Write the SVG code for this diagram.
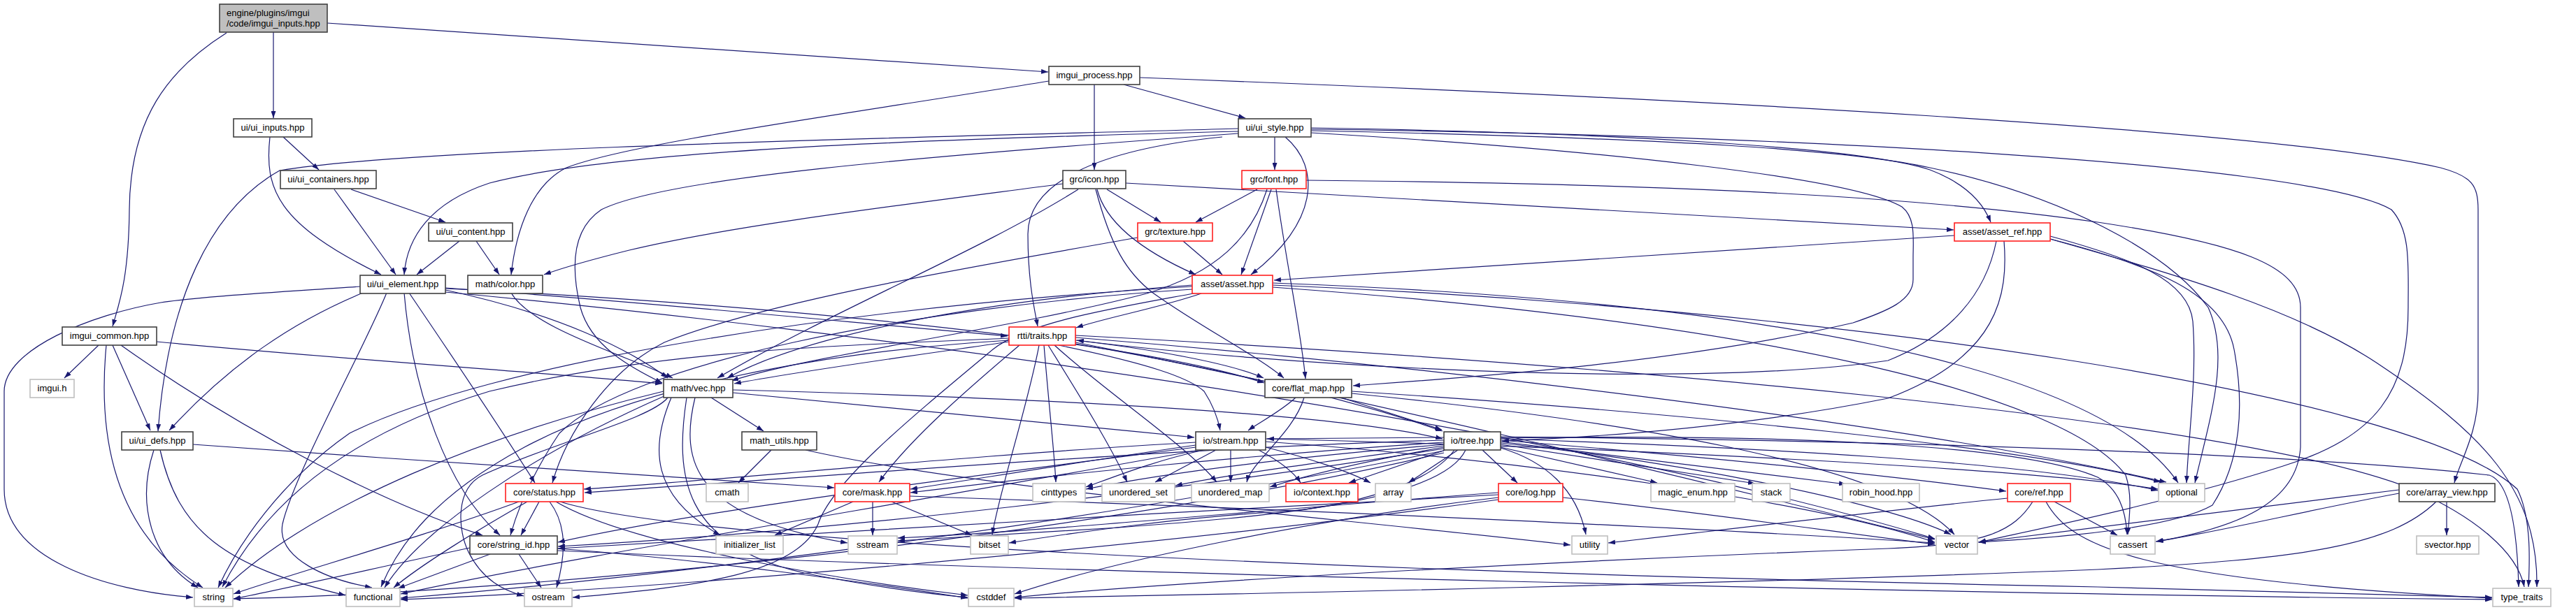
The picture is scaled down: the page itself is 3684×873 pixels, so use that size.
<svg xmlns="http://www.w3.org/2000/svg" width="3684" height="873" viewBox="0 0 3684 873">
<style>
.e{fill:none;stroke:#191970;stroke-width:1.2;marker-end:url(#ah)}
.n rect{fill:#fff;stroke:#404040;stroke-width:1.6}
.r rect{fill:#fff;stroke:#ff2020;stroke-width:1.6}
.g rect{fill:#fff;stroke:#bfbfbf;stroke-width:1.6}
.root rect{fill:#bfbfbf;stroke:#404040;stroke-width:1.6}
text{font-family:"Liberation Sans",Arial,sans-serif;font-size:13px;fill:#000}
.c{text-anchor:middle}
</style>
<defs>
<marker id="ah" viewBox="0 0 10 7" refX="10" refY="3.5" markerWidth="10" markerHeight="7" markerUnits="userSpaceOnUse" orient="auto"><path d="M0,0 L10,3.5 L0,7 z" fill="#191970"/></marker>
</defs>
<rect width="3684" height="873" fill="#fff"/>
<g id="edges">
<path class="e" d="M391,46 L391,169"/>
<path class="e" d="M468,33 L1499,103"/>
<path class="e" d="M324,47 C240,100 186,170 185,300 C184,400 170,435 161,467"/>
<path class="e" d="M405,196 L456,243"/>
<path class="e" d="M386,196 C378,270 395,320 545,393"/>
<path class="e" d="M478,271 L566,393"/>
<path class="e" d="M502,271 L637,318"/>
<path class="e" d="M657,345 L596,393"/>
<path class="e" d="M681,345 L714,393"/>
<path class="e" d="M1607,121 L1781,169"/>
<path class="e" d="M1565,121 L1565,243"/>
<path class="e" d="M1500,116 C1200,165 900,205 810,240 C760,265 738,330 731,393"/>
<path class="e" d="M1630,111 C2400,140 3250,185 3490,240 C3535,252 3544,265 3544,300 L3544,560 C3544,620 3518,660 3510,691"/>
<path class="e" d="M1823,196 L1823,243"/>
<path class="e" d="M1771,188 C1300,200 880,215 700,262 C615,290 582,340 578,393"/>
<path class="e" d="M1771,184 C1400,195 600,210 400,244 C300,300 240,430 226,617"/>
<path class="e" d="M1771,191 C1300,225 950,255 860,300 C815,330 818,390 830,440 C845,495 900,525 947,548"/>
<path class="e" d="M1748,196 C1560,215 1470,265 1470,335 C1470,405 1480,445 1484,467"/>
<path class="e" d="M1838,196 C1890,240 1885,320 1789,393"/>
<path class="e" d="M1875,183 C2300,190 2660,210 2760,243 C2810,262 2836,290 2847,318"/>
<path class="e" d="M1875,187 C2400,198 2650,215 2760,240 C2950,280 3100,360 3158,440 C3190,510 3160,600 3139,691"/>
<path class="e" d="M1875,185 C2500,192 3300,230 3420,300 C3448,330 3444,380 3444,440 C3444,560 3400,625 3265,667 C3100,720 2900,760 2830,776"/>
<path class="e" d="M1875,190 C2300,215 2650,255 2720,296 C2740,312 2736,340 2736,370 L2736,400 C2736,430 2700,445 2650,462 C2400,520 2100,540 1935,552"/>
<path class="e" d="M1583,271 L1660,318"/>
<path class="e" d="M1569,271 C1582,322 1640,362 1710,393"/>
<path class="e" d="M1567,271 C1588,350 1610,390 1650,420 C1720,470 1800,510 1836,541"/>
<path class="e" d="M1610,262 L2794,329"/>
<path class="e" d="M1520,263 C1300,292 1050,322 900,358 C840,373 800,385 778,393"/>
<path class="e" d="M1542,271 C1400,360 1200,440 1026,541"/>
<path class="e" d="M1798,271 L1710,318"/>
<path class="e" d="M1818,271 L1775,393"/>
<path class="e" d="M1812,271 C1790,340 1740,390 1640,420 C1450,470 1150,510 1046,545"/>
<path class="e" d="M1825,271 C1840,380 1860,470 1867,542"/>
<path class="e" d="M1868,258 C2300,262 2700,275 3000,318 C3200,348 3290,380 3290,440 L3290,640 C3285,720 3200,755 3084,775"/>
<path class="e" d="M1692,345 L1748,393"/>
<path class="e" d="M1627,340 C1400,380 1100,430 950,490 C870,530 810,620 790,691"/>
<path class="e" d="M1718,420 C1660,440 1580,455 1539,469"/>
<path class="e" d="M2795,337 L1822,401"/>
<path class="e" d="M2866,345 C2872,420 2860,510 2700,570 C2500,610 2300,625 2148,631"/>
<path class="e" d="M2855,345 C2840,420 2790,480 2700,516 C2400,560 1800,520 1540,487"/>
<path class="e" d="M2932,338 C3050,370 3130,400 3136,460 C3142,540 3130,620 3127,691"/>
<path class="e" d="M2932,342 C3080,380 3180,420 3195,500 C3210,580 3205,660 3164,723 C3100,760 2900,772 2830,776"/>
<path class="e" d="M2932,342 C3100,390 3280,440 3400,520 C3550,620 3630,700 3628,840"/>
<path class="e" d="M141,494 L92,541"/>
<path class="e" d="M161,494 L215,616"/>
<path class="e" d="M152,494 C140,620 160,760 290,841"/>
<path class="e" d="M173,494 C350,620 550,720 690,766"/>
<path class="e" d="M224,489 C500,515 800,535 947,549"/>
<path class="e" d="M220,644 C195,720 215,800 283,841"/>
<path class="e" d="M229,644 C255,760 320,810 494,852"/>
<path class="e" d="M276,636 C600,660 1000,685 1193,698"/>
<path class="e" d="M519,419 C420,460 330,520 242,616"/>
<path class="e" d="M515,410 C400,418 280,425 230,433 C130,450 6,500 6,560 L6,700 C6,800 150,845 276,855"/>
<path class="e" d="M553,419 C520,500 420,680 404,750 C395,800 470,830 532,841"/>
<path class="e" d="M585,419 C640,500 720,620 765,691"/>
<path class="e" d="M578,419 C590,560 640,700 715,766"/>
<path class="e" d="M637,412 C900,430 1200,460 1441,481"/>
<path class="e" d="M637,415 C800,450 900,500 955,541"/>
<path class="e" d="M637,413 C1000,430 1600,480 1808,548"/>
<path class="e" d="M637,418 C1200,470 2200,600 2767,771"/>
<path class="e" d="M731,419 C760,470 900,510 962,541"/>
<path class="e" d="M1443,489 C1300,510 1150,530 1050,549"/>
<path class="e" d="M1458,494 C1380,560 1300,630 1257,690"/>
<path class="e" d="M1486,494 C1470,580 1430,700 1419,765"/>
<path class="e" d="M1493,494 C1500,580 1508,650 1510,690"/>
<path class="e" d="M1499,494 C1540,560 1590,640 1612,690"/>
<path class="e" d="M1508,494 C1580,560 1700,640 1740,690"/>
<path class="e" d="M1514,494 C1640,520 1700,540 1722,560 C1735,580 1742,600 1745,616"/>
<path class="e" d="M1538,487 C1650,500 1760,520 1807,541"/>
<path class="e" d="M1538,492 C1700,520 1900,560 2063,617"/>
<path class="e" d="M1443,484 C1200,495 950,500 700,560 C500,620 380,720 318,840"/>
<path class="e" d="M1443,487 C1150,505 900,560 750,640 C620,710 570,780 545,840"/>
<path class="e" d="M1538,480 C2300,520 3200,600 3450,700 C3540,740 3600,790 3610,840"/>
<path class="e" d="M1538,483 C2000,520 2700,600 3098,690"/>
<path class="e" d="M1538,490 C1900,560 2400,680 2767,772"/>
<path class="e" d="M1017,569 L1092,617"/>
<path class="e" d="M1048,562 C1300,585 1500,605 1708,626"/>
<path class="e" d="M960,569 C930,640 930,710 1030,766"/>
<path class="e" d="M994,569 C972,660 990,740 1212,777"/>
<path class="e" d="M982,569 C965,680 975,780 1150,820 C1250,840 1330,850 1384,855"/>
<path class="e" d="M955,569 C930,600 800,630 690,680 C650,700 655,760 670,790 C690,830 720,845 749,853"/>
<path class="e" d="M949,560 C700,620 450,720 322,841"/>
<path class="e" d="M952,566 C760,650 600,760 550,841"/>
<path class="e" d="M1048,558 C1500,570 1900,590 2063,628"/>
<path class="e" d="M1103,644 L1056,691"/>
<path class="e" d="M1152,644 C1400,700 1900,740 2246,780"/>
<path class="e" d="M1721,644 C1650,660 1600,680 1553,697"/>
<path class="e" d="M1739,644 L1652,690"/>
<path class="e" d="M1760,644 L1760,690"/>
<path class="e" d="M1710,637 C1550,660 1400,685 1302,700"/>
<path class="e" d="M1710,633 C1400,650 1000,690 835,700"/>
<path class="e" d="M1710,640 C1400,680 1000,730 798,776"/>
<path class="e" d="M1800,644 C1830,660 1850,675 1860,691"/>
<path class="e" d="M1810,640 C1870,655 1930,675 1960,691"/>
<path class="e" d="M1710,645 C1300,720 800,800 573,850"/>
<path class="e" d="M1810,632 C2200,660 2600,720 2767,776"/>
<path class="e" d="M1810,628 C2300,640 2900,670 3086,700"/>
<path class="e" d="M1918,569 L2062,615"/>
<path class="e" d="M1853,569 C1830,590 1800,605 1785,616"/>
<path class="e" d="M1865,569 C1850,620 1790,660 1783,690"/>
<path class="e" d="M1933,563 C2300,600 2700,660 2795,765"/>
<path class="e" d="M1933,560 C2400,590 2900,640 3090,690"/>
<path class="e" d="M2065,626 L1812,628"/>
<path class="e" d="M2067,644 L1929,691"/>
<path class="e" d="M2085,644 L2014,691"/>
<path class="e" d="M2120,644 L2170,691"/>
<path class="e" d="M2146,640 L2370,691"/>
<path class="e" d="M2146,636 L2510,692"/>
<path class="e" d="M2146,632 L2640,693"/>
<path class="e" d="M2146,641 C2210,660 2255,700 2268,765"/>
<path class="e" d="M2146,630 C2400,650 2700,680 2869,703"/>
<path class="e" d="M2146,628 C2500,640 2900,660 3086,702"/>
<path class="e" d="M2146,634 C2400,660 2700,720 2790,765"/>
<path class="e" d="M2146,627 C2600,620 2900,640 3000,683 C3030,700 3040,730 3042,765"/>
<path class="e" d="M2146,625 C2700,630 3300,650 3560,680 C3590,690 3600,760 3602,840"/>
<path class="e" d="M2065,630 C1700,640 1200,680 836,705"/>
<path class="e" d="M2065,633 C1800,650 1500,680 1302,705"/>
<path class="e" d="M2065,636 C1900,650 1700,670 1553,700"/>
<path class="e" d="M2065,638 C1900,660 1750,680 1681,695"/>
<path class="e" d="M2065,640 C1950,660 1870,680 1816,697"/>
<path class="e" d="M2065,642 C1700,700 1200,760 798,782"/>
<path class="e" d="M2080,644 C2040,700 1900,730 1820,733 C1700,740 1550,760 1443,777"/>
<path class="e" d="M2096,644 C2060,720 1800,740 1600,755 C1450,765 1350,770 1284,774"/>
<path class="e" d="M2065,645 C1500,760 900,830 573,856"/>
<path class="e" d="M2065,648 C1500,780 700,850 334,857"/>
<path class="e" d="M2143,708 C1700,730 1100,770 798,785"/>
<path class="e" d="M2143,712 C1900,740 1600,800 1451,850"/>
<path class="e" d="M2143,705 C1800,730 1500,760 1284,770"/>
<path class="e" d="M2235,712 C2450,735 2650,765 2767,779"/>
<path class="e" d="M2143,715 C1600,790 900,845 573,858"/>
<path class="e" d="M771,718 L745,766"/>
<path class="e" d="M742,718 C600,770 420,820 334,850"/>
<path class="e" d="M754,718 C680,760 600,810 563,841"/>
<path class="e" d="M786,718 C810,750 810,790 796,841"/>
<path class="e" d="M795,718 C900,780 1200,830 1384,852"/>
<path class="e" d="M801,718 C1000,780 2000,820 3000,840 C3300,848 3500,853 3564,855"/>
<path class="e" d="M672,784 C550,810 420,840 334,857"/>
<path class="e" d="M701,793 L569,842"/>
<path class="e" d="M742,793 L774,841"/>
<path class="e" d="M797,785 C1000,800 1250,835 1384,856"/>
<path class="e" d="M797,788 C1500,820 2800,850 3564,858"/>
<path class="e" d="M1220,718 L1108,766"/>
<path class="e" d="M1248,718 L1248,766"/>
<path class="e" d="M1275,718 L1390,766"/>
<path class="e" d="M1301,710 C1900,730 2500,760 2767,777"/>
<path class="e" d="M2871,713 C2700,730 2450,760 2300,777"/>
<path class="e" d="M2938,718 L3028,766"/>
<path class="e" d="M2907,718 C2880,760 2840,780 2700,785 C2300,800 1700,830 1451,855"/>
<path class="e" d="M2926,718 C2960,780 3050,830 3564,856"/>
<path class="e" d="M3431,701 C3200,730 2950,760 2829,776"/>
<path class="e" d="M3431,706 C3300,730 3180,760 3083,775"/>
<path class="e" d="M3499,718 L3499,766"/>
<path class="e" d="M3484,718 C3420,780 3300,800 3000,815 C2500,835 1800,850 1451,856"/>
<path class="e" d="M1705,414 C1300,440 900,520 800,620 C760,680 740,730 730,766"/>
<path class="e" d="M1705,410 C1200,440 700,520 500,620 C400,690 340,780 312,841"/>
<path class="e" d="M1712,419 C1600,440 1470,460 1420,500 C1300,600 1190,690 1170,750 C1140,820 1000,840 819,855"/>
<path class="e" d="M1705,408 C1400,430 1150,480 1040,541"/>
<path class="e" d="M1820,405 C2500,430 3000,520 3115,691"/>
<path class="e" d="M1820,408 C2600,440 3450,560 3600,700 C3620,740 3618,800 3616,840"/>
<path class="e" d="M1820,411 C2500,460 2950,560 3040,680 C3050,710 3045,740 3043,765"/>
</g>
<g id="node-root" class="root"><rect x="314" y="6" width="154" height="40"/><text x="324" y="23">engine/plugins/imgui</text><text x="324" y="38">/code/imgui_inputs.hpp</text></g>
<g id="node-ui_inputs" class="n"><rect x="334" y="170" width="112" height="26"/><text class="c" x="390" y="187">ui/ui_inputs.hpp</text></g>
<g id="node-imgui_process" class="n"><rect x="1500" y="95" width="130" height="26"/><text class="c" x="1565" y="112">imgui_process.hpp</text></g>
<g id="node-ui_style" class="n"><rect x="1771" y="170" width="104" height="26"/><text class="c" x="1823" y="187">ui/ui_style.hpp</text></g>
<g id="node-ui_containers" class="n"><rect x="401" y="244" width="137" height="26"/><text class="c" x="469.5" y="261">ui/ui_containers.hpp</text></g>
<g id="node-grc_icon" class="n"><rect x="1520" y="244" width="90" height="26"/><text class="c" x="1565" y="261">grc/icon.hpp</text></g>
<g id="node-grc_font" class="r"><rect x="1776" y="244" width="92" height="26"/><text class="c" x="1822" y="261">grc/font.hpp</text></g>
<g id="node-ui_content" class="n"><rect x="613" y="319" width="120" height="26"/><text class="c" x="673" y="336">ui/ui_content.hpp</text></g>
<g id="node-grc_texture" class="r"><rect x="1627" y="319" width="107" height="26"/><text class="c" x="1680.5" y="336">grc/texture.hpp</text></g>
<g id="node-asset_ref" class="r"><rect x="2795" y="319" width="137" height="26"/><text class="c" x="2863.5" y="336">asset/asset_ref.hpp</text></g>
<g id="node-ui_element" class="n"><rect x="515" y="394" width="122" height="26"/><text class="c" x="576" y="411">ui/ui_element.hpp</text></g>
<g id="node-math_color" class="n"><rect x="669" y="394" width="107" height="26"/><text class="c" x="722.5" y="411">math/color.hpp</text></g>
<g id="node-asset" class="r"><rect x="1705" y="394" width="115" height="26"/><text class="c" x="1762.5" y="411">asset/asset.hpp</text></g>
<g id="node-imgui_common" class="n"><rect x="89" y="468" width="135" height="26"/><text class="c" x="156.5" y="485">imgui_common.hpp</text></g>
<g id="node-rtti_traits" class="r"><rect x="1443" y="468" width="95" height="26"/><text class="c" x="1490.5" y="485">rtti/traits.hpp</text></g>
<g id="node-imgui_h" class="g"><rect x="43" y="543" width="63" height="26"/><text class="c" x="74.5" y="560">imgui.h</text></g>
<g id="node-math_vec" class="n"><rect x="949" y="543" width="99" height="26"/><text class="c" x="998.5" y="560">math/vec.hpp</text></g>
<g id="node-flat_map" class="n"><rect x="1809" y="543" width="124" height="26"/><text class="c" x="1871" y="560">core/flat_map.hpp</text></g>
<g id="node-ui_defs" class="n"><rect x="174" y="618" width="102" height="26"/><text class="c" x="225" y="635">ui/ui_defs.hpp</text></g>
<g id="node-math_utils" class="n"><rect x="1061" y="618" width="107" height="26"/><text class="c" x="1114.5" y="635">math_utils.hpp</text></g>
<g id="node-io_stream" class="n"><rect x="1710" y="618" width="100" height="26"/><text class="c" x="1760" y="635">io/stream.hpp</text></g>
<g id="node-io_tree" class="n"><rect x="2065" y="618" width="81" height="26"/><text class="c" x="2105.5" y="635">io/tree.hpp</text></g>
<g id="node-core_status" class="r"><rect x="723" y="692" width="111" height="26"/><text class="c" x="778.5" y="709">core/status.hpp</text></g>
<g id="node-cmath" class="g"><rect x="1010" y="692" width="60" height="26"/><text class="c" x="1040" y="709">cmath</text></g>
<g id="node-core_mask" class="r"><rect x="1194" y="692" width="107" height="26"/><text class="c" x="1247.5" y="709">core/mask.hpp</text></g>
<g id="node-cinttypes" class="g"><rect x="1477" y="692" width="75" height="26"/><text class="c" x="1514.5" y="709">cinttypes</text></g>
<g id="node-unordered_set" class="g"><rect x="1576" y="692" width="104" height="26"/><text class="c" x="1628" y="709">unordered_set</text></g>
<g id="node-unordered_map" class="g"><rect x="1704" y="692" width="111" height="26"/><text class="c" x="1759.5" y="709">unordered_map</text></g>
<g id="node-io_context" class="r"><rect x="1839" y="692" width="103" height="26"/><text class="c" x="1890.5" y="709">io/context.hpp</text></g>
<g id="node-array" class="g"><rect x="1967" y="692" width="51" height="26"/><text class="c" x="1992.5" y="709">array</text></g>
<g id="node-core_log" class="r"><rect x="2143" y="692" width="92" height="26"/><text class="c" x="2189" y="709">core/log.hpp</text></g>
<g id="node-magic_enum" class="g"><rect x="2361" y="692" width="120" height="26"/><text class="c" x="2421" y="709">magic_enum.hpp</text></g>
<g id="node-stack" class="g"><rect x="2506" y="692" width="54" height="26"/><text class="c" x="2533" y="709">stack</text></g>
<g id="node-robin_hood" class="g"><rect x="2635" y="692" width="110" height="26"/><text class="c" x="2690" y="709">robin_hood.hpp</text></g>
<g id="node-core_ref" class="r"><rect x="2871" y="692" width="90" height="26"/><text class="c" x="2916" y="709">core/ref.hpp</text></g>
<g id="node-optional" class="g"><rect x="3087" y="692" width="66" height="26"/><text class="c" x="3120" y="709">optional</text></g>
<g id="node-array_view" class="n"><rect x="3431" y="692" width="137" height="26"/><text class="c" x="3499.5" y="709">core/array_view.hpp</text></g>
<g id="node-string_id" class="n"><rect x="672" y="767" width="125" height="26"/><text class="c" x="734.5" y="784">core/string_id.hpp</text></g>
<g id="node-initializer_list" class="g"><rect x="1024" y="767" width="96" height="26"/><text class="c" x="1072" y="784">initializer_list</text></g>
<g id="node-sstream" class="g"><rect x="1213" y="767" width="70" height="26"/><text class="c" x="1248" y="784">sstream</text></g>
<g id="node-bitset" class="g"><rect x="1388" y="767" width="54" height="26"/><text class="c" x="1415" y="784">bitset</text></g>
<g id="node-utility" class="g"><rect x="2248" y="767" width="51" height="26"/><text class="c" x="2273.5" y="784">utility</text></g>
<g id="node-vector" class="g"><rect x="2769" y="767" width="59" height="26"/><text class="c" x="2798.5" y="784">vector</text></g>
<g id="node-cassert" class="g"><rect x="3018" y="767" width="64" height="26"/><text class="c" x="3050" y="784">cassert</text></g>
<g id="node-svector" class="g"><rect x="3456" y="767" width="89" height="26"/><text class="c" x="3500.5" y="784">svector.hpp</text></g>
<g id="node-string" class="g"><rect x="278" y="842" width="55" height="26"/><text class="c" x="305.5" y="859">string</text></g>
<g id="node-functional" class="g"><rect x="495" y="842" width="77" height="26"/><text class="c" x="533.5" y="859">functional</text></g>
<g id="node-ostream" class="g"><rect x="750" y="842" width="68" height="26"/><text class="c" x="784" y="859">ostream</text></g>
<g id="node-cstddef" class="g"><rect x="1385" y="842" width="65" height="26"/><text class="c" x="1417.5" y="859">cstddef</text></g>
<g id="node-type_traits" class="g"><rect x="3565" y="842" width="83" height="26"/><text class="c" x="3606.5" y="859">type_traits</text></g>
</svg>
